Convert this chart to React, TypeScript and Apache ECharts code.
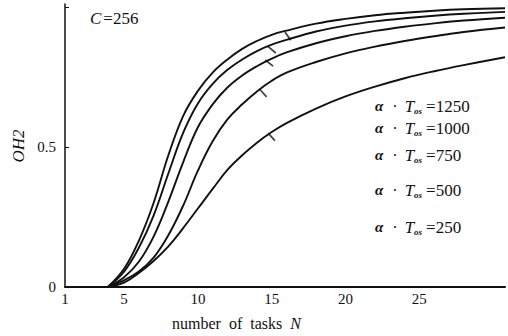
import React, { useEffect, useRef } from "react";
import * as echarts from "echarts";

// Number of tasks N (x) sample points
const tasksN = [3.9, 5, 6, 7, 8, 9, 10, 11, 12, 13, 14, 15, 16, 18, 20, 22, 24, 26, 28, 30.8];
// OH2 values per curve (alpha * T_os)
const oh2_1250 = [0, 0.065, 0.165, 0.3, 0.47, 0.61, 0.7, 0.765, 0.812, 0.85, 0.878, 0.9, 0.915, 0.94, 0.957, 0.97, 0.979, 0.986, 0.991, 0.995];
const oh2_1000 = [0, 0.055, 0.14, 0.255, 0.405, 0.55, 0.655, 0.725, 0.775, 0.812, 0.842, 0.865, 0.882, 0.912, 0.933, 0.948, 0.959, 0.968, 0.975, 0.982];
const oh2_750 = [0, 0.035, 0.09, 0.18, 0.305, 0.445, 0.57, 0.652, 0.712, 0.755, 0.788, 0.815, 0.837, 0.87, 0.895, 0.914, 0.929, 0.941, 0.951, 0.961];
const oh2_500 = [0, 0.024, 0.055, 0.105, 0.185, 0.29, 0.415, 0.52, 0.598, 0.652, 0.698, 0.736, 0.765, 0.803, 0.834, 0.858, 0.878, 0.895, 0.91, 0.926];
const oh2_250 = [0, 0.016, 0.05, 0.093, 0.145, 0.21, 0.28, 0.35, 0.418, 0.47, 0.515, 0.553, 0.585, 0.637, 0.68, 0.715, 0.745, 0.77, 0.792, 0.82];
const curveLabels = ["1250", "1000", "750", "500", "250"];

// Small marks on each curve
const markN = [15.9, 14.76, 14.56, 14.2, 14.76];
const markOH2 = [0.91, 0.858, 0.81, 0.705, 0.549];
const markAngle = [35, 50, 52, 42, 42];

const xTickLabels = [1, 5, 10, 15, 20, 25];
const yTickLabels = [0, 0.5];

const SERIF = "Liberation Serif";

export default function App() {
  const ref = useRef<HTMLDivElement>(null);
  useEffect(() => {
    if (!ref.current) return;
    const chart = echarts.init(ref.current, undefined, { renderer: "svg" });
    const curves = [oh2_1250, oh2_1000, oh2_750, oh2_500, oh2_250];
    const legendY = [106, 128, 155, 190, 227];
    const textRich = {
      a: { fontFamily: SERIF, fontSize: 15, fontStyle: "italic", fontWeight: "bold", lineHeight: 18, fill: "#111" },
      dot: { fontFamily: SERIF, fontSize: 16, lineHeight: 18, fill: "#111", padding: [0, 7, 0, 9] },
      d: { fontFamily: SERIF, fontSize: 17, lineHeight: 18, fill: "#111" },
      t: { fontFamily: SERIF, fontSize: 17, fontStyle: "italic", lineHeight: 18, fill: "#111" },
      s: { fontFamily: SERIF, fontSize: 9, fontStyle: "italic", fontWeight: "bold", lineHeight: 9, verticalAlign: "bottom", fill: "#111", padding: [0, 4, 0, 0] },
    };
    const option: any = {
      animation: false,
      backgroundColor: "#fff",
      textStyle: { fontFamily: SERIF },
      grid: { left: 65, right: 3, top: 4, bottom: 49, containLabel: false },
      xAxis: {
        type: "value",
        min: 1,
        max: 30.8,
        interval: 1,
        splitLine: { show: false },
        axisTick: { show: false },
        axisLine: { lineStyle: { color: "#111", width: 2 } },
        axisLabel: {
          color: "#111",
          fontFamily: SERIF,
          fontSize: 15,
          margin: 4,
          showMaxLabel: false,
          formatter: (v: number) => (xTickLabels.includes(v) ? String(v) : ""),
        },
      },
      yAxis: {
        type: "value",
        min: 0,
        max: 1.01,
        interval: 0.5,
        splitLine: { show: false },
        axisTick: { show: true, inside: true, length: 4, lineStyle: { color: "#111" } },
        axisLine: { show: true, lineStyle: { color: "#111", width: 1.5 } },
        axisLabel: {
          color: "#111",
          fontFamily: SERIF,
          fontSize: 15,
          margin: 9,
          showMaxLabel: false,
          formatter: (v: number) => (yTickLabels.includes(v) ? String(v) : ""),
        },
      },
      series: [
        ...curves.map((c, k) => ({
          type: "line",
          name: curveLabels[k],
          smooth: 0.4,
          symbol: "none",
          clip: false,
          lineStyle: { color: "#111", width: 1.9 },
          data: tasksN.map((n, i) => [n, c[i]]),
        })),
        {
          type: "scatter",
          symbol: "rect",
          symbolSize: [1.7, 10],
          itemStyle: { color: "#111" },
          data: markN.map((n, i) => {
            const r = (markAngle[i] * Math.PI) / 180;
            return {
              value: [n, markOH2[i]],
              symbolRotate: markAngle[i],
              symbolOffset: [5 * Math.sin(r), 5 * Math.cos(r)],
            };
          }),
        },
      ],
      graphic: [
        {
          type: "text",
          x: 90,
          y: 18,
          style: {
            text: "{c|C}{d|=256}",
            verticalAlign: "middle",
            rich: {
              c: { fontFamily: SERIF, fontSize: 17, fontStyle: "italic", fill: "#111", padding: [0, 2, 0, 0] },
              d: { fontFamily: SERIF, fontSize: 17, fill: "#111" },
            },
          },
        },
        {
          type: "text",
          x: 18,
          y: 146,
          rotation: Math.PI / 2,
          style: {
            text: "OH2",
            fontFamily: SERIF,
            fontSize: 17,
            fontStyle: "italic",
            fill: "#111",
            align: "center",
            verticalAlign: "middle",
          },
        },
        {
          type: "text",
          x: 172,
          y: 323,
          style: {
            text: "{d|number  of  tasks  }{n|N}",
            align: "left",
            verticalAlign: "middle",
            rich: {
              d: { fontFamily: SERIF, fontSize: 16, fill: "#111" },
              n: { fontFamily: SERIF, fontSize: 16, fontStyle: "italic", fill: "#111" },
            },
          },
        },
        ...curveLabels.map((lab, k) => ({
          type: "text",
          x: 375,
          y: legendY[k],
          style: {
            text: `{a|α}{dot|·}{t|T}{s|os}{d|=${lab}}`,
            verticalAlign: "middle",
            rich: textRich,
          },
        })),
      ],
    };
    chart.setOption(option);
    return () => chart.dispose();
  }, []);
  return <div ref={ref} style={{ position: "absolute", left: 0, top: 0, width: 508, height: 336 }} />;
}
